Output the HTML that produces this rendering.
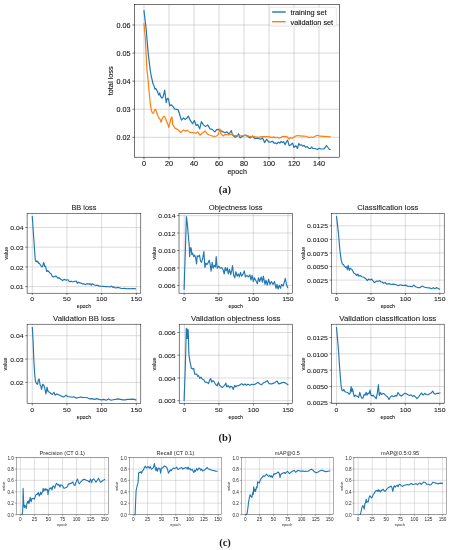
<!DOCTYPE html>
<html><head><meta charset="utf-8"><style>
html,body{margin:0;padding:0;background:#fff;}
body{width:451px;height:550px;overflow:hidden;font-family:"Liberation Sans",sans-serif;}
svg{display:block;filter:blur(0.3px);}
</style></head><body>
<svg width="451" height="550" viewBox="0 0 451 550" font-family="Liberation Sans, sans-serif">
<rect width="451" height="550" fill="#fff"/>
<line x1="143.97" y1="4.40" x2="143.97" y2="157.20" stroke="#b0b0b0" stroke-width="0.5"/>
<line x1="168.98" y1="4.40" x2="168.98" y2="157.20" stroke="#b0b0b0" stroke-width="0.5"/>
<line x1="193.99" y1="4.40" x2="193.99" y2="157.20" stroke="#b0b0b0" stroke-width="0.5"/>
<line x1="218.99" y1="4.40" x2="218.99" y2="157.20" stroke="#b0b0b0" stroke-width="0.5"/>
<line x1="244.00" y1="4.40" x2="244.00" y2="157.20" stroke="#b0b0b0" stroke-width="0.5"/>
<line x1="269.01" y1="4.40" x2="269.01" y2="157.20" stroke="#b0b0b0" stroke-width="0.5"/>
<line x1="294.02" y1="4.40" x2="294.02" y2="157.20" stroke="#b0b0b0" stroke-width="0.5"/>
<line x1="319.03" y1="4.40" x2="319.03" y2="157.20" stroke="#b0b0b0" stroke-width="0.5"/>
<line x1="134.65" y1="137.30" x2="339.60" y2="137.30" stroke="#b0b0b0" stroke-width="0.5"/>
<line x1="134.65" y1="109.23" x2="339.60" y2="109.23" stroke="#b0b0b0" stroke-width="0.5"/>
<line x1="134.65" y1="81.15" x2="339.60" y2="81.15" stroke="#b0b0b0" stroke-width="0.5"/>
<line x1="134.65" y1="53.08" x2="339.60" y2="53.08" stroke="#b0b0b0" stroke-width="0.5"/>
<line x1="134.65" y1="25.00" x2="339.60" y2="25.00" stroke="#b0b0b0" stroke-width="0.5"/>
<polyline points="143.97,10.70 146.20,29.50 148.10,52.40 150.20,70.00 151.30,76.50 152.40,80.90 152.90,83.60 154.00,85.80 154.90,89.10 155.60,88.50 156.40,89.40 157.30,91.30 158.10,93.40 158.90,95.10 159.70,92.90 160.50,96.20 161.60,97.80 162.70,97.80 163.80,94.00 164.70,90.20 165.40,96.20 166.20,102.70 167.10,98.90 168.20,98.40 169.00,101.60 169.80,106.00 170.90,104.90 172.00,105.40 174.90,109.20 178.10,109.50 181.40,120.10 183.60,118.00 185.00,119.40 186.70,118.30 188.30,116.10 190.00,119.90 192.50,123.80 194.40,120.50 196.10,125.50 197.70,124.40 199.70,128.80 201.40,121.60 203.30,124.90 205.50,126.60 207.70,124.90 209.90,128.80 212.20,129.40 214.90,131.90 216.60,129.70 218.30,129.40 220.50,130.50 222.70,131.60 224.90,132.70 227.10,131.90 228.80,133.80 230.00,132.60 231.30,130.60 232.70,135.30 235.30,137.30 237.30,135.90 238.60,133.70 240.00,137.90 242.00,136.60 244.60,135.30 247.30,135.90 250.00,137.90 252.60,135.90 254.60,138.60 257.90,138.20 260.60,139.30 262.60,137.90 264.60,142.60 266.60,139.30 268.60,141.90 270.00,142.20 271.30,141.70 272.70,141.30 274.00,143.20 275.30,142.90 276.70,143.80 278.40,142.20 279.80,143.10 281.10,141.30 282.40,142.60 283.70,141.70 285.10,144.80 286.00,142.60 287.60,140.20 289.10,145.70 290.80,144.80 292.60,143.10 293.90,147.50 295.70,145.70 297.50,148.40 298.80,143.50 300.20,145.30 301.50,144.80 302.80,146.20 304.10,145.30 305.50,147.10 307.30,146.60 309.00,148.40 310.50,148.50 311.50,147.00 313.00,148.50 315.00,148.50 317.50,149.50 319.00,148.30 321.00,149.00 324.00,148.80 325.50,147.00 326.50,145.50 328.00,147.50 329.40,149.50 330.20,149.50" fill="none" stroke="#1f77b4" stroke-width="1.2" stroke-linejoin="round" stroke-linecap="square"/>
<polyline points="143.97,23.80 145.40,39.30 146.90,70.00 148.00,78.70 149.10,91.80 150.20,102.70 151.30,110.30 152.40,113.10 153.50,113.10 154.50,110.30 155.60,109.30 156.70,112.50 157.80,115.80 158.90,118.00 160.00,119.10 161.10,122.30 162.20,118.50 163.30,116.90 164.40,116.30 165.40,118.00 166.50,121.30 168.00,124.50 168.70,127.30 169.80,123.40 170.90,118.50 172.00,116.90 172.70,124.50 174.90,128.10 177.80,129.60 180.70,132.50 183.60,129.90 185.80,131.30 187.20,130.10 189.40,132.10 192.80,132.70 196.10,133.20 197.70,131.90 200.00,135.20 202.20,133.20 205.00,131.00 207.70,134.30 210.50,135.50 213.80,136.30 216.60,136.00 218.30,134.30 219.90,128.80 221.00,133.80 223.20,136.00 225.50,134.30 228.20,134.90 231.60,134.30 234.00,135.30 238.00,135.90 242.00,135.90 246.00,135.00 250.00,136.60 254.00,136.60 257.90,137.30 261.90,136.60 265.90,136.60 270.00,136.90 271.80,137.70 273.50,136.90 275.30,137.70 277.10,137.30 278.90,138.20 280.60,137.70 282.40,136.40 284.20,136.70 286.00,136.40 287.70,137.30 289.10,139.10 290.40,137.70 292.20,138.20 293.90,137.30 295.70,136.00 297.50,135.50 300.20,135.80 302.80,136.10 304.00,136.20 307.00,136.50 309.00,137.80 311.00,137.00 313.00,137.50 315.00,136.20 317.50,135.20 320.00,136.20 324.00,136.30 327.00,136.50 330.20,136.80" fill="none" stroke="#ff7f0e" stroke-width="1.2" stroke-linejoin="round" stroke-linecap="square"/>
<rect x="269.8" y="7.2" width="66.5" height="19" rx="1.2" fill="#fff" fill-opacity="0.8" stroke="#d0d0d0" stroke-width="0.5"/>
<line x1="272.1" y1="12" x2="285.7" y2="12" stroke="#1f77b4" stroke-width="1.4"/>
<line x1="272.1" y1="21.7" x2="285.7" y2="21.7" stroke="#ff7f0e" stroke-width="1.4"/>
<text x="290.50" y="14.90" font-size="6.80" text-anchor="start" textLength="36.04" lengthAdjust="spacingAndGlyphs" fill="#111" stroke="#111" stroke-width="0.1">training set</text>
<text x="290.50" y="24.50" font-size="6.80" text-anchor="start" textLength="42.66" lengthAdjust="spacingAndGlyphs" fill="#111" stroke="#111" stroke-width="0.1">validation set</text>
<rect x="134.65" y="4.40" width="204.95" height="152.80" fill="none" stroke="#000" stroke-width="0.55"/>
<line x1="143.97" y1="157.20" x2="143.97" y2="159.40" stroke="#000" stroke-width="0.55"/>
<line x1="168.98" y1="157.20" x2="168.98" y2="159.40" stroke="#000" stroke-width="0.55"/>
<line x1="193.99" y1="157.20" x2="193.99" y2="159.40" stroke="#000" stroke-width="0.55"/>
<line x1="218.99" y1="157.20" x2="218.99" y2="159.40" stroke="#000" stroke-width="0.55"/>
<line x1="244.00" y1="157.20" x2="244.00" y2="159.40" stroke="#000" stroke-width="0.55"/>
<line x1="269.01" y1="157.20" x2="269.01" y2="159.40" stroke="#000" stroke-width="0.55"/>
<line x1="294.02" y1="157.20" x2="294.02" y2="159.40" stroke="#000" stroke-width="0.55"/>
<line x1="319.03" y1="157.20" x2="319.03" y2="159.40" stroke="#000" stroke-width="0.55"/>
<line x1="132.45" y1="137.30" x2="134.65" y2="137.30" stroke="#000" stroke-width="0.55"/>
<line x1="132.45" y1="109.23" x2="134.65" y2="109.23" stroke="#000" stroke-width="0.55"/>
<line x1="132.45" y1="81.15" x2="134.65" y2="81.15" stroke="#000" stroke-width="0.55"/>
<line x1="132.45" y1="53.08" x2="134.65" y2="53.08" stroke="#000" stroke-width="0.55"/>
<line x1="132.45" y1="25.00" x2="134.65" y2="25.00" stroke="#000" stroke-width="0.55"/>
<text x="143.97" y="166.19" font-size="6.80" text-anchor="middle" textLength="4.01" lengthAdjust="spacingAndGlyphs" fill="#111" stroke="#111" stroke-width="0.1">0</text>
<text x="168.98" y="166.19" font-size="6.80" text-anchor="middle" textLength="8.01" lengthAdjust="spacingAndGlyphs" fill="#111" stroke="#111" stroke-width="0.1">20</text>
<text x="193.99" y="166.19" font-size="6.80" text-anchor="middle" textLength="8.01" lengthAdjust="spacingAndGlyphs" fill="#111" stroke="#111" stroke-width="0.1">40</text>
<text x="218.99" y="166.19" font-size="6.80" text-anchor="middle" textLength="8.01" lengthAdjust="spacingAndGlyphs" fill="#111" stroke="#111" stroke-width="0.1">60</text>
<text x="244.00" y="166.19" font-size="6.80" text-anchor="middle" textLength="8.01" lengthAdjust="spacingAndGlyphs" fill="#111" stroke="#111" stroke-width="0.1">80</text>
<text x="269.01" y="166.19" font-size="6.80" text-anchor="middle" textLength="12.02" lengthAdjust="spacingAndGlyphs" fill="#111" stroke="#111" stroke-width="0.1">100</text>
<text x="294.02" y="166.19" font-size="6.80" text-anchor="middle" textLength="12.02" lengthAdjust="spacingAndGlyphs" fill="#111" stroke="#111" stroke-width="0.1">120</text>
<text x="319.03" y="166.19" font-size="6.80" text-anchor="middle" textLength="12.02" lengthAdjust="spacingAndGlyphs" fill="#111" stroke="#111" stroke-width="0.1">140</text>
<text x="130.55" y="140.20" font-size="6.80" text-anchor="end" textLength="14.02" lengthAdjust="spacingAndGlyphs" fill="#111" stroke="#111" stroke-width="0.1">0.02</text>
<text x="130.55" y="112.12" font-size="6.80" text-anchor="end" textLength="14.02" lengthAdjust="spacingAndGlyphs" fill="#111" stroke="#111" stroke-width="0.1">0.03</text>
<text x="130.55" y="84.05" font-size="6.80" text-anchor="end" textLength="14.02" lengthAdjust="spacingAndGlyphs" fill="#111" stroke="#111" stroke-width="0.1">0.04</text>
<text x="130.55" y="55.97" font-size="6.80" text-anchor="end" textLength="14.02" lengthAdjust="spacingAndGlyphs" fill="#111" stroke="#111" stroke-width="0.1">0.05</text>
<text x="130.55" y="27.90" font-size="6.80" text-anchor="end" textLength="14.02" lengthAdjust="spacingAndGlyphs" fill="#111" stroke="#111" stroke-width="0.1">0.06</text>
<text x="237.12" y="174.30" font-size="6.91" text-anchor="middle" textLength="19.49" lengthAdjust="spacingAndGlyphs" fill="#111" stroke="#111" stroke-width="0.1">epoch</text>
<text x="113.03" y="80.80" font-size="6.91" text-anchor="middle" textLength="29.04" lengthAdjust="spacingAndGlyphs" transform="rotate(-90 113.03 80.80)" fill="#111" stroke="#111" stroke-width="0.1">total loss</text>
<text x="224.8" y="193.3" font-family="Liberation Serif, serif" font-weight="bold" font-size="10.5" text-anchor="middle" fill="#1a1a1a">(a)</text>
<line x1="32.27" y1="213.30" x2="32.27" y2="293.20" stroke="#b0b0b0" stroke-width="0.45"/>
<line x1="66.95" y1="213.30" x2="66.95" y2="293.20" stroke="#b0b0b0" stroke-width="0.45"/>
<line x1="101.64" y1="213.30" x2="101.64" y2="293.20" stroke="#b0b0b0" stroke-width="0.45"/>
<line x1="136.33" y1="213.30" x2="136.33" y2="293.20" stroke="#b0b0b0" stroke-width="0.45"/>
<line x1="27.10" y1="286.60" x2="140.80" y2="286.60" stroke="#b0b0b0" stroke-width="0.45"/>
<line x1="27.10" y1="266.90" x2="140.80" y2="266.90" stroke="#b0b0b0" stroke-width="0.45"/>
<line x1="27.10" y1="247.20" x2="140.80" y2="247.20" stroke="#b0b0b0" stroke-width="0.45"/>
<line x1="27.10" y1="227.50" x2="140.80" y2="227.50" stroke="#b0b0b0" stroke-width="0.45"/>
<polyline points="32.30,216.60 33.50,234.80 34.30,246.50 34.90,255.00 35.30,259.90 36.00,261.70 36.70,260.80 37.40,262.10 38.00,261.70 38.60,263.40 39.30,263.20 40.00,264.30 40.90,265.60 41.80,267.00 42.70,266.10 43.60,262.50 44.20,263.90 44.60,266.50 45.40,266.10 46.00,267.90 46.60,271.40 47.30,270.50 48.00,271.40 48.60,271.00 49.50,272.70 50.40,273.20 51.30,274.10 52.20,276.30 53.10,277.20 54.00,276.30 54.80,276.70 55.70,276.10 56.60,276.30 57.20,277.60 58.10,278.20 59.00,277.60 59.90,278.50 60.80,279.40 61.70,279.80 62.60,280.70 63.40,279.80 64.30,279.40 65.20,279.80 66.10,280.30 67.30,279.70 68.10,279.80 69.00,281.20 69.90,281.60 71.10,281.20 72.10,281.60 73.10,281.70 74.30,281.40 75.40,281.20 76.40,281.00 77.30,283.30 78.00,282.40 79.20,282.60 80.30,282.90 81.40,283.30 82.60,283.90 83.70,283.70 84.40,284.20 85.40,284.70 86.30,284.10 87.10,283.50 88.00,284.10 89.00,283.70 89.70,284.20 90.50,283.90 91.20,285.20 92.00,283.70 93.00,284.10 93.90,284.80 95.00,285.20 96.10,285.40 97.30,285.20 98.20,285.40 99.10,286.30 100.10,286.00 101.00,286.20 102.20,286.30 103.70,286.30 105.60,286.60 107.20,286.60 108.80,286.80 110.40,286.90 111.60,286.00 112.80,287.40 114.00,286.90 115.20,288.00 116.40,287.70 117.60,287.40 118.80,287.60 120.00,288.00 121.20,288.40 122.80,288.50 124.40,288.40 125.90,288.60 127.50,288.80 129.10,288.60 130.70,288.80 132.30,288.60 133.90,288.50 135.50,288.80" fill="none" stroke="#1f77b4" stroke-width="1.15" stroke-linejoin="round" stroke-linecap="square"/>
<rect x="27.10" y="213.30" width="113.70" height="79.90" fill="none" stroke="#000" stroke-width="0.5"/>
<line x1="32.27" y1="293.20" x2="32.27" y2="295.00" stroke="#000" stroke-width="0.5"/>
<line x1="66.95" y1="293.20" x2="66.95" y2="295.00" stroke="#000" stroke-width="0.5"/>
<line x1="101.64" y1="293.20" x2="101.64" y2="295.00" stroke="#000" stroke-width="0.5"/>
<line x1="136.33" y1="293.20" x2="136.33" y2="295.00" stroke="#000" stroke-width="0.5"/>
<line x1="25.30" y1="286.60" x2="27.10" y2="286.60" stroke="#000" stroke-width="0.5"/>
<line x1="25.30" y1="266.90" x2="27.10" y2="266.90" stroke="#000" stroke-width="0.5"/>
<line x1="25.30" y1="247.20" x2="27.10" y2="247.20" stroke="#000" stroke-width="0.5"/>
<line x1="25.30" y1="227.50" x2="27.10" y2="227.50" stroke="#000" stroke-width="0.5"/>
<text x="32.27" y="301.17" font-size="6.00" text-anchor="middle" textLength="3.82" lengthAdjust="spacingAndGlyphs" fill="#1a1a1a" stroke="#1a1a1a" stroke-width="0.08">0</text>
<text x="66.95" y="301.17" font-size="6.00" text-anchor="middle" textLength="7.63" lengthAdjust="spacingAndGlyphs" fill="#1a1a1a" stroke="#1a1a1a" stroke-width="0.08">50</text>
<text x="101.64" y="301.17" font-size="6.00" text-anchor="middle" textLength="11.45" lengthAdjust="spacingAndGlyphs" fill="#1a1a1a" stroke="#1a1a1a" stroke-width="0.08">100</text>
<text x="136.33" y="301.17" font-size="6.00" text-anchor="middle" textLength="11.45" lengthAdjust="spacingAndGlyphs" fill="#1a1a1a" stroke="#1a1a1a" stroke-width="0.08">150</text>
<text x="23.60" y="289.29" font-size="6.00" text-anchor="end" textLength="13.36" lengthAdjust="spacingAndGlyphs" fill="#1a1a1a" stroke="#1a1a1a" stroke-width="0.08">0.01</text>
<text x="23.60" y="269.59" font-size="6.00" text-anchor="end" textLength="13.36" lengthAdjust="spacingAndGlyphs" fill="#1a1a1a" stroke="#1a1a1a" stroke-width="0.08">0.02</text>
<text x="23.60" y="249.89" font-size="6.00" text-anchor="end" textLength="13.36" lengthAdjust="spacingAndGlyphs" fill="#1a1a1a" stroke="#1a1a1a" stroke-width="0.08">0.03</text>
<text x="23.60" y="230.19" font-size="6.00" text-anchor="end" textLength="13.36" lengthAdjust="spacingAndGlyphs" fill="#1a1a1a" stroke="#1a1a1a" stroke-width="0.08">0.04</text>
<text x="83.95" y="210.30" font-size="7.45" text-anchor="middle" textLength="24.99" lengthAdjust="spacingAndGlyphs" fill="#1a1a1a" stroke="#1a1a1a" stroke-width="0.08">BB loss</text>
<text x="83.95" y="308.20" font-size="5.08" text-anchor="middle" textLength="14.32" lengthAdjust="spacingAndGlyphs" fill="#1a1a1a" stroke="#1a1a1a" stroke-width="0.08">epoch</text>
<text x="8.03" y="253.25" font-size="5.08" text-anchor="middle" textLength="12.84" lengthAdjust="spacingAndGlyphs" transform="rotate(-90 8.03 253.25)" fill="#1a1a1a" stroke="#1a1a1a" stroke-width="0.08">value</text>
<line x1="184.15" y1="213.30" x2="184.15" y2="293.20" stroke="#b0b0b0" stroke-width="0.45"/>
<line x1="218.75" y1="213.30" x2="218.75" y2="293.20" stroke="#b0b0b0" stroke-width="0.45"/>
<line x1="253.34" y1="213.30" x2="253.34" y2="293.20" stroke="#b0b0b0" stroke-width="0.45"/>
<line x1="287.94" y1="213.30" x2="287.94" y2="293.20" stroke="#b0b0b0" stroke-width="0.45"/>
<line x1="179.00" y1="285.40" x2="292.40" y2="285.40" stroke="#b0b0b0" stroke-width="0.45"/>
<line x1="179.00" y1="267.95" x2="292.40" y2="267.95" stroke="#b0b0b0" stroke-width="0.45"/>
<line x1="179.00" y1="250.50" x2="292.40" y2="250.50" stroke="#b0b0b0" stroke-width="0.45"/>
<line x1="179.00" y1="233.05" x2="292.40" y2="233.05" stroke="#b0b0b0" stroke-width="0.45"/>
<line x1="179.00" y1="215.60" x2="292.40" y2="215.60" stroke="#b0b0b0" stroke-width="0.45"/>
<polyline points="184.10,289.30 186.40,216.60 187.40,224.60 188.50,237.70 189.30,246.40 189.60,256.60 190.40,247.90 191.10,247.90 191.80,254.40 192.50,253.00 193.70,256.60 194.70,255.20 195.70,258.10 196.60,263.90 197.20,255.90 198.30,256.60 199.50,255.20 200.50,261.00 201.50,262.40 202.70,258.10 203.90,251.50 204.90,267.50 205.90,263.10 207.10,264.60 208.20,262.40 209.20,260.20 210.30,265.30 211.10,271.10 212.20,262.40 213.20,268.20 214.30,265.30 215.50,266.80 216.20,256.60 217.20,268.20 218.70,266.10 220.20,268.20 221.60,267.50 223.10,269.70 224.20,274.00 225.20,267.50 226.20,270.90 227.30,267.90 228.30,273.90 229.50,269.40 230.70,274.70 231.80,270.20 232.50,265.60 233.70,275.40 234.80,277.70 235.90,271.70 237.10,276.20 238.30,273.90 239.30,276.90 240.50,272.40 241.60,276.20 243.10,273.90 244.30,270.90 245.40,276.90 246.90,275.40 248.40,276.90 249.90,274.70 250.90,280.00 252.10,275.40 253.30,281.50 254.40,277.70 255.90,280.70 257.40,283.70 258.50,277.70 259.70,281.50 261.20,277.00 262.40,282.20 263.40,276.20 265.00,284.50 266.00,280.00 267.20,285.20 268.70,279.20 269.90,284.50 271.40,281.50 273.00,284.50 274.50,281.50 276.00,288.30 277.00,284.50 278.10,289.00 279.30,285.20 280.50,288.30 281.50,284.50 283.10,286.00 284.30,282.20 285.30,278.40 286.50,284.50 287.60,287.50" fill="none" stroke="#1f77b4" stroke-width="1.15" stroke-linejoin="round" stroke-linecap="square"/>
<rect x="179.00" y="213.30" width="113.40" height="79.90" fill="none" stroke="#000" stroke-width="0.5"/>
<line x1="184.15" y1="293.20" x2="184.15" y2="295.00" stroke="#000" stroke-width="0.5"/>
<line x1="218.75" y1="293.20" x2="218.75" y2="295.00" stroke="#000" stroke-width="0.5"/>
<line x1="253.34" y1="293.20" x2="253.34" y2="295.00" stroke="#000" stroke-width="0.5"/>
<line x1="287.94" y1="293.20" x2="287.94" y2="295.00" stroke="#000" stroke-width="0.5"/>
<line x1="177.20" y1="285.40" x2="179.00" y2="285.40" stroke="#000" stroke-width="0.5"/>
<line x1="177.20" y1="267.95" x2="179.00" y2="267.95" stroke="#000" stroke-width="0.5"/>
<line x1="177.20" y1="250.50" x2="179.00" y2="250.50" stroke="#000" stroke-width="0.5"/>
<line x1="177.20" y1="233.05" x2="179.00" y2="233.05" stroke="#000" stroke-width="0.5"/>
<line x1="177.20" y1="215.60" x2="179.00" y2="215.60" stroke="#000" stroke-width="0.5"/>
<text x="184.15" y="301.17" font-size="6.00" text-anchor="middle" textLength="3.82" lengthAdjust="spacingAndGlyphs" fill="#1a1a1a" stroke="#1a1a1a" stroke-width="0.08">0</text>
<text x="218.75" y="301.17" font-size="6.00" text-anchor="middle" textLength="7.63" lengthAdjust="spacingAndGlyphs" fill="#1a1a1a" stroke="#1a1a1a" stroke-width="0.08">50</text>
<text x="253.34" y="301.17" font-size="6.00" text-anchor="middle" textLength="11.45" lengthAdjust="spacingAndGlyphs" fill="#1a1a1a" stroke="#1a1a1a" stroke-width="0.08">100</text>
<text x="287.94" y="301.17" font-size="6.00" text-anchor="middle" textLength="11.45" lengthAdjust="spacingAndGlyphs" fill="#1a1a1a" stroke="#1a1a1a" stroke-width="0.08">150</text>
<text x="175.50" y="288.09" font-size="6.00" text-anchor="end" textLength="17.17" lengthAdjust="spacingAndGlyphs" fill="#1a1a1a" stroke="#1a1a1a" stroke-width="0.08">0.006</text>
<text x="175.50" y="270.64" font-size="6.00" text-anchor="end" textLength="17.17" lengthAdjust="spacingAndGlyphs" fill="#1a1a1a" stroke="#1a1a1a" stroke-width="0.08">0.008</text>
<text x="175.50" y="253.19" font-size="6.00" text-anchor="end" textLength="17.17" lengthAdjust="spacingAndGlyphs" fill="#1a1a1a" stroke="#1a1a1a" stroke-width="0.08">0.010</text>
<text x="175.50" y="235.74" font-size="6.00" text-anchor="end" textLength="17.17" lengthAdjust="spacingAndGlyphs" fill="#1a1a1a" stroke="#1a1a1a" stroke-width="0.08">0.012</text>
<text x="175.50" y="218.29" font-size="6.00" text-anchor="end" textLength="17.17" lengthAdjust="spacingAndGlyphs" fill="#1a1a1a" stroke="#1a1a1a" stroke-width="0.08">0.014</text>
<text x="235.70" y="210.30" font-size="7.45" text-anchor="middle" textLength="53.81" lengthAdjust="spacingAndGlyphs" fill="#1a1a1a" stroke="#1a1a1a" stroke-width="0.08">Objectness loss</text>
<text x="235.70" y="308.20" font-size="5.08" text-anchor="middle" textLength="14.32" lengthAdjust="spacingAndGlyphs" fill="#1a1a1a" stroke="#1a1a1a" stroke-width="0.08">epoch</text>
<text x="156.18" y="253.25" font-size="5.08" text-anchor="middle" textLength="12.84" lengthAdjust="spacingAndGlyphs" transform="rotate(-90 156.18 253.25)" fill="#1a1a1a" stroke="#1a1a1a" stroke-width="0.08">value</text>
<line x1="336.62" y1="213.30" x2="336.62" y2="293.20" stroke="#b0b0b0" stroke-width="0.45"/>
<line x1="371.00" y1="213.30" x2="371.00" y2="293.20" stroke="#b0b0b0" stroke-width="0.45"/>
<line x1="405.38" y1="213.30" x2="405.38" y2="293.20" stroke="#b0b0b0" stroke-width="0.45"/>
<line x1="439.76" y1="213.30" x2="439.76" y2="293.20" stroke="#b0b0b0" stroke-width="0.45"/>
<line x1="331.50" y1="280.10" x2="444.20" y2="280.10" stroke="#b0b0b0" stroke-width="0.45"/>
<line x1="331.50" y1="266.53" x2="444.20" y2="266.53" stroke="#b0b0b0" stroke-width="0.45"/>
<line x1="331.50" y1="252.95" x2="444.20" y2="252.95" stroke="#b0b0b0" stroke-width="0.45"/>
<line x1="331.50" y1="239.38" x2="444.20" y2="239.38" stroke="#b0b0b0" stroke-width="0.45"/>
<line x1="331.50" y1="225.80" x2="444.20" y2="225.80" stroke="#b0b0b0" stroke-width="0.45"/>
<polyline points="336.50,216.60 337.50,224.60 338.60,234.80 339.40,245.00 340.30,253.70 341.20,260.20 342.30,263.90 343.40,264.60 344.40,266.10 345.50,267.50 346.70,266.80 347.30,269.70 348.20,265.30 349.20,270.40 350.20,268.20 351.30,269.00 352.50,270.40 354.00,273.30 355.40,274.00 356.90,275.50 357.90,274.00 358.90,276.20 360.10,275.50 361.80,276.70 363.70,277.20 365.60,278.40 367.30,280.60 368.50,279.10 370.00,279.90 371.70,279.10 373.20,281.30 374.60,282.50 376.80,281.00 378.20,281.30 379.70,280.60 381.00,282.00 382.00,282.00 383.50,283.30 385.10,282.50 386.60,284.10 389.00,283.60 391.30,284.50 393.60,284.10 396.00,284.80 398.30,285.60 400.60,284.80 403.00,285.60 405.30,285.10 407.60,286.10 409.90,286.40 412.30,286.70 413.80,285.10 415.70,286.70 417.70,287.60 420.00,287.60 422.30,286.10 424.70,287.20 427.00,287.60 429.30,287.90 431.70,288.70 433.20,287.60 434.80,288.70 436.30,287.60 437.90,288.20 439.40,289.20" fill="none" stroke="#1f77b4" stroke-width="1.15" stroke-linejoin="round" stroke-linecap="square"/>
<rect x="331.50" y="213.30" width="112.70" height="79.90" fill="none" stroke="#000" stroke-width="0.5"/>
<line x1="336.62" y1="293.20" x2="336.62" y2="295.00" stroke="#000" stroke-width="0.5"/>
<line x1="371.00" y1="293.20" x2="371.00" y2="295.00" stroke="#000" stroke-width="0.5"/>
<line x1="405.38" y1="293.20" x2="405.38" y2="295.00" stroke="#000" stroke-width="0.5"/>
<line x1="439.76" y1="293.20" x2="439.76" y2="295.00" stroke="#000" stroke-width="0.5"/>
<line x1="329.70" y1="280.10" x2="331.50" y2="280.10" stroke="#000" stroke-width="0.5"/>
<line x1="329.70" y1="266.53" x2="331.50" y2="266.53" stroke="#000" stroke-width="0.5"/>
<line x1="329.70" y1="252.95" x2="331.50" y2="252.95" stroke="#000" stroke-width="0.5"/>
<line x1="329.70" y1="239.38" x2="331.50" y2="239.38" stroke="#000" stroke-width="0.5"/>
<line x1="329.70" y1="225.80" x2="331.50" y2="225.80" stroke="#000" stroke-width="0.5"/>
<text x="336.62" y="301.17" font-size="6.00" text-anchor="middle" textLength="3.82" lengthAdjust="spacingAndGlyphs" fill="#1a1a1a" stroke="#1a1a1a" stroke-width="0.08">0</text>
<text x="371.00" y="301.17" font-size="6.00" text-anchor="middle" textLength="7.63" lengthAdjust="spacingAndGlyphs" fill="#1a1a1a" stroke="#1a1a1a" stroke-width="0.08">50</text>
<text x="405.38" y="301.17" font-size="6.00" text-anchor="middle" textLength="11.45" lengthAdjust="spacingAndGlyphs" fill="#1a1a1a" stroke="#1a1a1a" stroke-width="0.08">100</text>
<text x="439.76" y="301.17" font-size="6.00" text-anchor="middle" textLength="11.45" lengthAdjust="spacingAndGlyphs" fill="#1a1a1a" stroke="#1a1a1a" stroke-width="0.08">150</text>
<text x="328.00" y="282.79" font-size="6.00" text-anchor="end" textLength="20.99" lengthAdjust="spacingAndGlyphs" fill="#1a1a1a" stroke="#1a1a1a" stroke-width="0.08">0.0025</text>
<text x="328.00" y="269.22" font-size="6.00" text-anchor="end" textLength="20.99" lengthAdjust="spacingAndGlyphs" fill="#1a1a1a" stroke="#1a1a1a" stroke-width="0.08">0.0050</text>
<text x="328.00" y="255.64" font-size="6.00" text-anchor="end" textLength="20.99" lengthAdjust="spacingAndGlyphs" fill="#1a1a1a" stroke="#1a1a1a" stroke-width="0.08">0.0075</text>
<text x="328.00" y="242.07" font-size="6.00" text-anchor="end" textLength="20.99" lengthAdjust="spacingAndGlyphs" fill="#1a1a1a" stroke="#1a1a1a" stroke-width="0.08">0.0100</text>
<text x="328.00" y="228.49" font-size="6.00" text-anchor="end" textLength="20.99" lengthAdjust="spacingAndGlyphs" fill="#1a1a1a" stroke="#1a1a1a" stroke-width="0.08">0.0125</text>
<text x="387.85" y="210.30" font-size="7.45" text-anchor="middle" textLength="61.19" lengthAdjust="spacingAndGlyphs" fill="#1a1a1a" stroke="#1a1a1a" stroke-width="0.08">Classification loss</text>
<text x="387.85" y="308.20" font-size="5.08" text-anchor="middle" textLength="14.32" lengthAdjust="spacingAndGlyphs" fill="#1a1a1a" stroke="#1a1a1a" stroke-width="0.08">epoch</text>
<text x="305.23" y="253.25" font-size="5.08" text-anchor="middle" textLength="12.84" lengthAdjust="spacingAndGlyphs" transform="rotate(-90 305.23 253.25)" fill="#1a1a1a" stroke="#1a1a1a" stroke-width="0.08">value</text>
<line x1="32.27" y1="324.20" x2="32.27" y2="403.70" stroke="#b0b0b0" stroke-width="0.45"/>
<line x1="66.95" y1="324.20" x2="66.95" y2="403.70" stroke="#b0b0b0" stroke-width="0.45"/>
<line x1="101.64" y1="324.20" x2="101.64" y2="403.70" stroke="#b0b0b0" stroke-width="0.45"/>
<line x1="136.33" y1="324.20" x2="136.33" y2="403.70" stroke="#b0b0b0" stroke-width="0.45"/>
<line x1="27.10" y1="382.40" x2="140.80" y2="382.40" stroke="#b0b0b0" stroke-width="0.45"/>
<line x1="27.10" y1="359.05" x2="140.80" y2="359.05" stroke="#b0b0b0" stroke-width="0.45"/>
<line x1="27.10" y1="335.70" x2="140.80" y2="335.70" stroke="#b0b0b0" stroke-width="0.45"/>
<polyline points="32.30,327.60 33.10,341.40 33.70,357.40 34.60,373.40 35.40,380.70 36.40,383.60 37.50,384.30 38.30,380.00 39.10,378.90 40.10,385.00 40.80,385.80 41.50,389.40 42.70,384.30 43.70,385.00 44.70,388.00 45.90,393.80 47.10,387.20 48.10,391.60 49.50,392.30 51.00,393.50 52.40,394.50 53.90,392.30 55.30,395.20 56.80,393.80 58.30,394.90 60.10,395.20 61.90,396.40 63.60,397.00 65.10,396.00 66.20,395.20 67.70,396.70 69.90,396.70 72.10,397.20 73.90,396.70 75.50,397.80 77.90,397.80 80.20,397.00 82.60,397.40 85.00,397.50 87.30,397.80 89.70,398.90 92.00,398.60 94.40,399.40 96.80,398.60 99.10,399.40 101.50,399.90 103.80,399.40 106.20,400.20 108.60,398.90 110.90,400.20 113.30,399.70 115.70,399.40 118.00,398.90 120.40,399.40 122.70,399.90 125.10,399.90 127.50,399.40 129.80,399.40 132.20,399.10 134.50,399.40 135.80,399.90" fill="none" stroke="#1f77b4" stroke-width="1.15" stroke-linejoin="round" stroke-linecap="square"/>
<rect x="27.10" y="324.20" width="113.70" height="79.50" fill="none" stroke="#000" stroke-width="0.5"/>
<line x1="32.27" y1="403.70" x2="32.27" y2="405.50" stroke="#000" stroke-width="0.5"/>
<line x1="66.95" y1="403.70" x2="66.95" y2="405.50" stroke="#000" stroke-width="0.5"/>
<line x1="101.64" y1="403.70" x2="101.64" y2="405.50" stroke="#000" stroke-width="0.5"/>
<line x1="136.33" y1="403.70" x2="136.33" y2="405.50" stroke="#000" stroke-width="0.5"/>
<line x1="25.30" y1="382.40" x2="27.10" y2="382.40" stroke="#000" stroke-width="0.5"/>
<line x1="25.30" y1="359.05" x2="27.10" y2="359.05" stroke="#000" stroke-width="0.5"/>
<line x1="25.30" y1="335.70" x2="27.10" y2="335.70" stroke="#000" stroke-width="0.5"/>
<text x="32.27" y="412.07" font-size="6.00" text-anchor="middle" textLength="3.82" lengthAdjust="spacingAndGlyphs" fill="#1a1a1a" stroke="#1a1a1a" stroke-width="0.08">0</text>
<text x="66.95" y="412.07" font-size="6.00" text-anchor="middle" textLength="7.63" lengthAdjust="spacingAndGlyphs" fill="#1a1a1a" stroke="#1a1a1a" stroke-width="0.08">50</text>
<text x="101.64" y="412.07" font-size="6.00" text-anchor="middle" textLength="11.45" lengthAdjust="spacingAndGlyphs" fill="#1a1a1a" stroke="#1a1a1a" stroke-width="0.08">100</text>
<text x="136.33" y="412.07" font-size="6.00" text-anchor="middle" textLength="11.45" lengthAdjust="spacingAndGlyphs" fill="#1a1a1a" stroke="#1a1a1a" stroke-width="0.08">150</text>
<text x="23.60" y="385.09" font-size="6.00" text-anchor="end" textLength="13.36" lengthAdjust="spacingAndGlyphs" fill="#1a1a1a" stroke="#1a1a1a" stroke-width="0.08">0.02</text>
<text x="23.60" y="361.74" font-size="6.00" text-anchor="end" textLength="13.36" lengthAdjust="spacingAndGlyphs" fill="#1a1a1a" stroke="#1a1a1a" stroke-width="0.08">0.03</text>
<text x="23.60" y="338.39" font-size="6.00" text-anchor="end" textLength="13.36" lengthAdjust="spacingAndGlyphs" fill="#1a1a1a" stroke="#1a1a1a" stroke-width="0.08">0.04</text>
<text x="83.95" y="321.20" font-size="7.45" text-anchor="middle" textLength="61.80" lengthAdjust="spacingAndGlyphs" fill="#1a1a1a" stroke="#1a1a1a" stroke-width="0.08">Validation BB loss</text>
<text x="83.95" y="418.70" font-size="5.08" text-anchor="middle" textLength="14.32" lengthAdjust="spacingAndGlyphs" fill="#1a1a1a" stroke="#1a1a1a" stroke-width="0.08">epoch</text>
<text x="7.43" y="363.95" font-size="5.08" text-anchor="middle" textLength="12.84" lengthAdjust="spacingAndGlyphs" transform="rotate(-90 7.43 363.95)" fill="#1a1a1a" stroke="#1a1a1a" stroke-width="0.08">value</text>
<line x1="184.35" y1="324.20" x2="184.35" y2="403.70" stroke="#b0b0b0" stroke-width="0.45"/>
<line x1="218.88" y1="324.20" x2="218.88" y2="403.70" stroke="#b0b0b0" stroke-width="0.45"/>
<line x1="253.41" y1="324.20" x2="253.41" y2="403.70" stroke="#b0b0b0" stroke-width="0.45"/>
<line x1="287.95" y1="324.20" x2="287.95" y2="403.70" stroke="#b0b0b0" stroke-width="0.45"/>
<line x1="179.20" y1="400.70" x2="292.40" y2="400.70" stroke="#b0b0b0" stroke-width="0.45"/>
<line x1="179.20" y1="377.97" x2="292.40" y2="377.97" stroke="#b0b0b0" stroke-width="0.45"/>
<line x1="179.20" y1="355.23" x2="292.40" y2="355.23" stroke="#b0b0b0" stroke-width="0.45"/>
<line x1="179.20" y1="332.50" x2="292.40" y2="332.50" stroke="#b0b0b0" stroke-width="0.45"/>
<polyline points="184.10,400.30 185.30,367.60 186.30,328.40 187.00,338.50 187.30,329.10 187.90,338.50 188.20,329.80 188.90,354.50 189.90,361.10 191.40,368.30 192.50,369.10 193.70,368.30 194.70,374.10 195.70,374.10 196.90,374.10 197.60,376.30 198.60,375.60 199.80,378.50 201.00,377.10 202.40,379.20 203.90,380.00 204.90,382.10 206.30,382.10 207.80,382.90 208.50,383.60 209.70,380.00 210.70,378.50 211.70,382.10 212.90,380.70 214.00,381.40 215.10,383.60 216.10,385.00 217.20,385.80 218.40,382.10 219.40,385.00 220.90,386.50 222.30,387.50 223.60,386.30 225.10,384.70 225.90,383.10 226.70,387.00 228.30,385.50 229.60,387.80 230.70,386.30 232.20,387.00 233.30,389.40 234.60,385.50 235.90,387.00 237.00,385.50 238.50,385.80 240.10,384.70 241.70,383.60 243.30,385.20 244.80,383.90 246.40,385.20 248.00,384.20 250.00,385.20 251.90,384.20 253.50,384.70 255.80,383.90 257.90,382.30 259.80,383.90 261.40,384.70 263.20,383.10 265.30,382.00 267.30,380.70 269.20,383.60 271.60,383.90 274.00,383.10 275.50,382.00 277.10,381.10 278.70,383.90 281.00,383.10 283.40,382.30 285.80,383.10 287.80,384.70" fill="none" stroke="#1f77b4" stroke-width="1.15" stroke-linejoin="round" stroke-linecap="square"/>
<rect x="179.20" y="324.20" width="113.20" height="79.50" fill="none" stroke="#000" stroke-width="0.5"/>
<line x1="184.35" y1="403.70" x2="184.35" y2="405.50" stroke="#000" stroke-width="0.5"/>
<line x1="218.88" y1="403.70" x2="218.88" y2="405.50" stroke="#000" stroke-width="0.5"/>
<line x1="253.41" y1="403.70" x2="253.41" y2="405.50" stroke="#000" stroke-width="0.5"/>
<line x1="287.95" y1="403.70" x2="287.95" y2="405.50" stroke="#000" stroke-width="0.5"/>
<line x1="177.40" y1="400.70" x2="179.20" y2="400.70" stroke="#000" stroke-width="0.5"/>
<line x1="177.40" y1="377.97" x2="179.20" y2="377.97" stroke="#000" stroke-width="0.5"/>
<line x1="177.40" y1="355.23" x2="179.20" y2="355.23" stroke="#000" stroke-width="0.5"/>
<line x1="177.40" y1="332.50" x2="179.20" y2="332.50" stroke="#000" stroke-width="0.5"/>
<text x="184.35" y="412.07" font-size="6.00" text-anchor="middle" textLength="3.82" lengthAdjust="spacingAndGlyphs" fill="#1a1a1a" stroke="#1a1a1a" stroke-width="0.08">0</text>
<text x="218.88" y="412.07" font-size="6.00" text-anchor="middle" textLength="7.63" lengthAdjust="spacingAndGlyphs" fill="#1a1a1a" stroke="#1a1a1a" stroke-width="0.08">50</text>
<text x="253.41" y="412.07" font-size="6.00" text-anchor="middle" textLength="11.45" lengthAdjust="spacingAndGlyphs" fill="#1a1a1a" stroke="#1a1a1a" stroke-width="0.08">100</text>
<text x="287.95" y="412.07" font-size="6.00" text-anchor="middle" textLength="11.45" lengthAdjust="spacingAndGlyphs" fill="#1a1a1a" stroke="#1a1a1a" stroke-width="0.08">150</text>
<text x="175.70" y="403.39" font-size="6.00" text-anchor="end" textLength="17.17" lengthAdjust="spacingAndGlyphs" fill="#1a1a1a" stroke="#1a1a1a" stroke-width="0.08">0.003</text>
<text x="175.70" y="380.66" font-size="6.00" text-anchor="end" textLength="17.17" lengthAdjust="spacingAndGlyphs" fill="#1a1a1a" stroke="#1a1a1a" stroke-width="0.08">0.004</text>
<text x="175.70" y="357.92" font-size="6.00" text-anchor="end" textLength="17.17" lengthAdjust="spacingAndGlyphs" fill="#1a1a1a" stroke="#1a1a1a" stroke-width="0.08">0.005</text>
<text x="175.70" y="335.19" font-size="6.00" text-anchor="end" textLength="17.17" lengthAdjust="spacingAndGlyphs" fill="#1a1a1a" stroke="#1a1a1a" stroke-width="0.08">0.006</text>
<text x="235.80" y="321.20" font-size="7.45" text-anchor="middle" textLength="89.41" lengthAdjust="spacingAndGlyphs" fill="#1a1a1a" stroke="#1a1a1a" stroke-width="0.08">Validation objectness loss</text>
<text x="235.80" y="418.70" font-size="5.08" text-anchor="middle" textLength="14.32" lengthAdjust="spacingAndGlyphs" fill="#1a1a1a" stroke="#1a1a1a" stroke-width="0.08">epoch</text>
<text x="156.23" y="363.95" font-size="5.08" text-anchor="middle" textLength="12.84" lengthAdjust="spacingAndGlyphs" transform="rotate(-90 156.23 363.95)" fill="#1a1a1a" stroke="#1a1a1a" stroke-width="0.08">value</text>
<line x1="336.53" y1="324.20" x2="336.53" y2="403.70" stroke="#b0b0b0" stroke-width="0.45"/>
<line x1="370.94" y1="324.20" x2="370.94" y2="403.70" stroke="#b0b0b0" stroke-width="0.45"/>
<line x1="405.35" y1="324.20" x2="405.35" y2="403.70" stroke="#b0b0b0" stroke-width="0.45"/>
<line x1="439.76" y1="324.20" x2="439.76" y2="403.70" stroke="#b0b0b0" stroke-width="0.45"/>
<line x1="331.40" y1="402.80" x2="444.20" y2="402.80" stroke="#b0b0b0" stroke-width="0.45"/>
<line x1="331.40" y1="386.48" x2="444.20" y2="386.48" stroke="#b0b0b0" stroke-width="0.45"/>
<line x1="331.40" y1="370.15" x2="444.20" y2="370.15" stroke="#b0b0b0" stroke-width="0.45"/>
<line x1="331.40" y1="353.82" x2="444.20" y2="353.82" stroke="#b0b0b0" stroke-width="0.45"/>
<line x1="331.40" y1="337.50" x2="444.20" y2="337.50" stroke="#b0b0b0" stroke-width="0.45"/>
<polyline points="336.50,327.60 337.50,338.50 338.60,351.60 339.40,364.70 340.30,376.30 341.20,386.50 341.90,390.10 342.90,390.90 343.80,389.40 344.80,391.60 345.80,392.00 347.00,392.30 348.20,393.00 349.20,394.50 350.20,393.00 351.10,386.50 351.80,391.60 352.50,388.70 353.50,393.80 354.30,396.70 355.40,395.20 356.40,396.00 357.50,396.40 358.60,397.40 359.80,392.30 360.80,396.00 361.80,398.10 363.00,398.10 364.10,394.50 365.20,395.20 366.20,392.30 367.00,395.20 368.10,393.00 369.10,393.80 370.00,390.10 371.00,395.20 372.00,396.00 373.20,395.20 374.30,396.70 375.30,397.20 376.20,398.70 377.30,393.30 378.40,384.70 379.30,395.60 380.40,392.50 381.50,394.50 382.80,393.30 384.30,394.10 385.90,395.60 387.40,396.70 389.00,399.50 390.50,396.70 392.10,395.60 393.60,396.70 395.20,395.60 396.70,396.10 398.00,392.50 399.50,394.80 401.10,396.10 402.60,395.10 404.50,393.30 406.00,393.60 407.90,394.80 409.50,395.60 411.00,394.80 412.60,396.40 414.10,395.60 415.70,397.20 416.90,398.70 418.50,397.20 420.00,394.80 421.60,393.00 423.10,395.10 424.70,393.30 426.20,394.50 428.10,394.80 430.10,393.60 431.70,392.50 432.70,391.00 434.00,393.60 435.50,394.10 437.10,393.30 439.00,393.30 439.90,393.00" fill="none" stroke="#1f77b4" stroke-width="1.15" stroke-linejoin="round" stroke-linecap="square"/>
<rect x="331.40" y="324.20" width="112.80" height="79.50" fill="none" stroke="#000" stroke-width="0.5"/>
<line x1="336.53" y1="403.70" x2="336.53" y2="405.50" stroke="#000" stroke-width="0.5"/>
<line x1="370.94" y1="403.70" x2="370.94" y2="405.50" stroke="#000" stroke-width="0.5"/>
<line x1="405.35" y1="403.70" x2="405.35" y2="405.50" stroke="#000" stroke-width="0.5"/>
<line x1="439.76" y1="403.70" x2="439.76" y2="405.50" stroke="#000" stroke-width="0.5"/>
<line x1="329.60" y1="402.80" x2="331.40" y2="402.80" stroke="#000" stroke-width="0.5"/>
<line x1="329.60" y1="386.48" x2="331.40" y2="386.48" stroke="#000" stroke-width="0.5"/>
<line x1="329.60" y1="370.15" x2="331.40" y2="370.15" stroke="#000" stroke-width="0.5"/>
<line x1="329.60" y1="353.82" x2="331.40" y2="353.82" stroke="#000" stroke-width="0.5"/>
<line x1="329.60" y1="337.50" x2="331.40" y2="337.50" stroke="#000" stroke-width="0.5"/>
<text x="336.53" y="412.07" font-size="6.00" text-anchor="middle" textLength="3.82" lengthAdjust="spacingAndGlyphs" fill="#1a1a1a" stroke="#1a1a1a" stroke-width="0.08">0</text>
<text x="370.94" y="412.07" font-size="6.00" text-anchor="middle" textLength="7.63" lengthAdjust="spacingAndGlyphs" fill="#1a1a1a" stroke="#1a1a1a" stroke-width="0.08">50</text>
<text x="405.35" y="412.07" font-size="6.00" text-anchor="middle" textLength="11.45" lengthAdjust="spacingAndGlyphs" fill="#1a1a1a" stroke="#1a1a1a" stroke-width="0.08">100</text>
<text x="439.76" y="412.07" font-size="6.00" text-anchor="middle" textLength="11.45" lengthAdjust="spacingAndGlyphs" fill="#1a1a1a" stroke="#1a1a1a" stroke-width="0.08">150</text>
<text x="327.90" y="405.49" font-size="6.00" text-anchor="end" textLength="20.99" lengthAdjust="spacingAndGlyphs" fill="#1a1a1a" stroke="#1a1a1a" stroke-width="0.08">0.0025</text>
<text x="327.90" y="389.17" font-size="6.00" text-anchor="end" textLength="20.99" lengthAdjust="spacingAndGlyphs" fill="#1a1a1a" stroke="#1a1a1a" stroke-width="0.08">0.0050</text>
<text x="327.90" y="372.84" font-size="6.00" text-anchor="end" textLength="20.99" lengthAdjust="spacingAndGlyphs" fill="#1a1a1a" stroke="#1a1a1a" stroke-width="0.08">0.0075</text>
<text x="327.90" y="356.51" font-size="6.00" text-anchor="end" textLength="20.99" lengthAdjust="spacingAndGlyphs" fill="#1a1a1a" stroke="#1a1a1a" stroke-width="0.08">0.0100</text>
<text x="327.90" y="340.19" font-size="6.00" text-anchor="end" textLength="20.99" lengthAdjust="spacingAndGlyphs" fill="#1a1a1a" stroke="#1a1a1a" stroke-width="0.08">0.0125</text>
<text x="387.80" y="321.20" font-size="7.45" text-anchor="middle" textLength="96.98" lengthAdjust="spacingAndGlyphs" fill="#1a1a1a" stroke="#1a1a1a" stroke-width="0.08">Validation classification loss</text>
<text x="387.80" y="418.70" font-size="5.08" text-anchor="middle" textLength="14.32" lengthAdjust="spacingAndGlyphs" fill="#1a1a1a" stroke="#1a1a1a" stroke-width="0.08">epoch</text>
<text x="305.13" y="363.95" font-size="5.08" text-anchor="middle" textLength="12.84" lengthAdjust="spacingAndGlyphs" transform="rotate(-90 305.13 363.95)" fill="#1a1a1a" stroke="#1a1a1a" stroke-width="0.08">value</text>
<text x="225" y="440.7" font-family="Liberation Serif, serif" font-weight="bold" font-size="10.5" text-anchor="middle" fill="#1a1a1a">(b)</text>
<line x1="20.39" y1="457.60" x2="20.39" y2="514.60" stroke="#b0b0b0" stroke-width="0.4"/>
<line x1="34.43" y1="457.60" x2="34.43" y2="514.60" stroke="#b0b0b0" stroke-width="0.4"/>
<line x1="48.48" y1="457.60" x2="48.48" y2="514.60" stroke="#b0b0b0" stroke-width="0.4"/>
<line x1="62.53" y1="457.60" x2="62.53" y2="514.60" stroke="#b0b0b0" stroke-width="0.4"/>
<line x1="76.58" y1="457.60" x2="76.58" y2="514.60" stroke="#b0b0b0" stroke-width="0.4"/>
<line x1="90.63" y1="457.60" x2="90.63" y2="514.60" stroke="#b0b0b0" stroke-width="0.4"/>
<line x1="104.68" y1="457.60" x2="104.68" y2="514.60" stroke="#b0b0b0" stroke-width="0.4"/>
<line x1="16.20" y1="514.60" x2="108.30" y2="514.60" stroke="#b0b0b0" stroke-width="0.4"/>
<line x1="16.20" y1="503.20" x2="108.30" y2="503.20" stroke="#b0b0b0" stroke-width="0.4"/>
<line x1="16.20" y1="491.80" x2="108.30" y2="491.80" stroke="#b0b0b0" stroke-width="0.4"/>
<line x1="16.20" y1="480.40" x2="108.30" y2="480.40" stroke="#b0b0b0" stroke-width="0.4"/>
<line x1="16.20" y1="469.00" x2="108.30" y2="469.00" stroke="#b0b0b0" stroke-width="0.4"/>
<line x1="16.20" y1="457.60" x2="108.30" y2="457.60" stroke="#b0b0b0" stroke-width="0.4"/>
<polyline points="22.10,514.60 22.60,511.90 22.90,505.60 23.10,488.40 23.50,498.70 23.80,504.30 24.30,507.70 24.80,505.30 25.50,506.30 26.20,508.40 26.90,503.60 27.50,501.50 27.90,502.90 28.40,500.80 29.00,503.60 29.50,500.80 30.20,497.40 30.70,500.80 31.20,501.80 31.70,498.70 32.40,498.40 33.10,498.70 33.80,498.40 34.50,499.10 35.20,496.70 35.90,494.90 36.60,494.20 37.30,494.60 37.80,493.20 38.30,492.50 38.80,494.60 39.40,496.00 40.00,493.90 40.60,492.20 41.10,494.60 41.80,493.20 42.50,491.80 43.20,488.40 43.60,491.10 44.20,489.70 44.70,489.10 45.20,490.40 45.70,488.70 46.30,489.10 47.10,490.40 47.60,489.70 48.00,494.60 48.50,491.30 49.30,489.30 50.00,488.00 50.70,488.60 51.30,487.60 52.00,490.00 52.70,486.60 53.30,486.00 54.00,486.60 54.70,488.30 55.30,486.00 56.00,484.30 56.60,483.30 57.30,484.30 58.00,485.30 58.60,484.30 59.30,485.30 60.00,487.00 60.60,485.00 61.30,485.30 62.00,485.00 62.80,486.00 63.60,488.00 64.60,488.30 65.60,487.60 66.60,487.30 67.60,486.30 68.30,484.30 69.00,483.60 69.60,484.00 70.30,483.60 71.00,483.00 71.60,483.30 72.30,482.30 72.90,482.00 73.60,484.00 74.30,485.30 74.90,485.60 75.60,483.30 76.30,481.60 76.90,480.00 77.60,479.00 78.30,482.20 79.40,483.80 80.50,482.20 81.60,481.10 82.70,480.00 83.80,479.20 84.90,479.40 86.10,480.30 87.20,480.50 88.30,481.10 89.40,482.20 90.50,478.90 91.60,482.70 92.70,479.40 93.80,478.90 94.90,480.50 96.00,482.20 97.10,480.50 98.60,478.30 99.40,480.50 100.50,482.20 101.60,481.60 102.70,480.50 103.80,480.00 104.60,479.40" fill="none" stroke="#1f77b4" stroke-width="1.1" stroke-linejoin="round" stroke-linecap="square"/>
<rect x="16.20" y="457.60" width="92.10" height="57.00" fill="none" stroke="#333" stroke-width="0.4"/>
<line x1="20.39" y1="514.60" x2="20.39" y2="515.90" stroke="#333" stroke-width="0.4"/>
<line x1="34.43" y1="514.60" x2="34.43" y2="515.90" stroke="#333" stroke-width="0.4"/>
<line x1="48.48" y1="514.60" x2="48.48" y2="515.90" stroke="#333" stroke-width="0.4"/>
<line x1="62.53" y1="514.60" x2="62.53" y2="515.90" stroke="#333" stroke-width="0.4"/>
<line x1="76.58" y1="514.60" x2="76.58" y2="515.90" stroke="#333" stroke-width="0.4"/>
<line x1="90.63" y1="514.60" x2="90.63" y2="515.90" stroke="#333" stroke-width="0.4"/>
<line x1="104.68" y1="514.60" x2="104.68" y2="515.90" stroke="#333" stroke-width="0.4"/>
<line x1="14.90" y1="514.60" x2="16.20" y2="514.60" stroke="#333" stroke-width="0.4"/>
<line x1="14.90" y1="503.20" x2="16.20" y2="503.20" stroke="#333" stroke-width="0.4"/>
<line x1="14.90" y1="491.80" x2="16.20" y2="491.80" stroke="#333" stroke-width="0.4"/>
<line x1="14.90" y1="480.40" x2="16.20" y2="480.40" stroke="#333" stroke-width="0.4"/>
<line x1="14.90" y1="469.00" x2="16.20" y2="469.00" stroke="#333" stroke-width="0.4"/>
<line x1="14.90" y1="457.60" x2="16.20" y2="457.60" stroke="#333" stroke-width="0.4"/>
<text x="20.39" y="521.29" font-size="4.43" text-anchor="middle" textLength="2.61" lengthAdjust="spacingAndGlyphs" fill="#2a2a2a" stroke="#2a2a2a" stroke-width="0.0">0</text>
<text x="34.43" y="521.29" font-size="4.43" text-anchor="middle" textLength="5.22" lengthAdjust="spacingAndGlyphs" fill="#2a2a2a" stroke="#2a2a2a" stroke-width="0.0">25</text>
<text x="48.48" y="521.29" font-size="4.43" text-anchor="middle" textLength="5.22" lengthAdjust="spacingAndGlyphs" fill="#2a2a2a" stroke="#2a2a2a" stroke-width="0.0">50</text>
<text x="62.53" y="521.29" font-size="4.43" text-anchor="middle" textLength="5.22" lengthAdjust="spacingAndGlyphs" fill="#2a2a2a" stroke="#2a2a2a" stroke-width="0.0">75</text>
<text x="76.58" y="521.29" font-size="4.43" text-anchor="middle" textLength="7.82" lengthAdjust="spacingAndGlyphs" fill="#2a2a2a" stroke="#2a2a2a" stroke-width="0.0">100</text>
<text x="90.63" y="521.29" font-size="4.43" text-anchor="middle" textLength="7.82" lengthAdjust="spacingAndGlyphs" fill="#2a2a2a" stroke="#2a2a2a" stroke-width="0.0">125</text>
<text x="104.68" y="521.29" font-size="4.43" text-anchor="middle" textLength="7.82" lengthAdjust="spacingAndGlyphs" fill="#2a2a2a" stroke="#2a2a2a" stroke-width="0.0">150</text>
<text x="14.00" y="516.60" font-size="4.43" text-anchor="end" textLength="6.52" lengthAdjust="spacingAndGlyphs" fill="#2a2a2a" stroke="#2a2a2a" stroke-width="0.0">0.0</text>
<text x="14.00" y="505.20" font-size="4.43" text-anchor="end" textLength="6.52" lengthAdjust="spacingAndGlyphs" fill="#2a2a2a" stroke="#2a2a2a" stroke-width="0.0">0.2</text>
<text x="14.00" y="493.80" font-size="4.43" text-anchor="end" textLength="6.52" lengthAdjust="spacingAndGlyphs" fill="#2a2a2a" stroke="#2a2a2a" stroke-width="0.0">0.4</text>
<text x="14.00" y="482.40" font-size="4.43" text-anchor="end" textLength="6.52" lengthAdjust="spacingAndGlyphs" fill="#2a2a2a" stroke="#2a2a2a" stroke-width="0.0">0.6</text>
<text x="14.00" y="471.00" font-size="4.43" text-anchor="end" textLength="6.52" lengthAdjust="spacingAndGlyphs" fill="#2a2a2a" stroke="#2a2a2a" stroke-width="0.0">0.8</text>
<text x="14.00" y="459.60" font-size="4.43" text-anchor="end" textLength="6.52" lengthAdjust="spacingAndGlyphs" fill="#2a2a2a" stroke="#2a2a2a" stroke-width="0.0">1.0</text>
<text x="62.25" y="454.80" font-size="5.97" text-anchor="middle" textLength="45.41" lengthAdjust="spacingAndGlyphs" fill="#2a2a2a" stroke="#2a2a2a" stroke-width="0.0">Precision (CT 0.1)</text>
<text x="62.25" y="526.40" font-size="3.67" text-anchor="middle" textLength="10.36" lengthAdjust="spacingAndGlyphs" fill="#2a2a2a" stroke="#2a2a2a" stroke-width="0.0">epoch</text>
<text x="5.00" y="486.10" font-size="3.67" text-anchor="middle" textLength="9.29" lengthAdjust="spacingAndGlyphs" transform="rotate(-90 5.00 486.10)" fill="#2a2a2a" stroke="#2a2a2a" stroke-width="0.0">value</text>
<line x1="133.40" y1="457.60" x2="133.40" y2="514.60" stroke="#b0b0b0" stroke-width="0.4"/>
<line x1="147.51" y1="457.60" x2="147.51" y2="514.60" stroke="#b0b0b0" stroke-width="0.4"/>
<line x1="161.62" y1="457.60" x2="161.62" y2="514.60" stroke="#b0b0b0" stroke-width="0.4"/>
<line x1="175.73" y1="457.60" x2="175.73" y2="514.60" stroke="#b0b0b0" stroke-width="0.4"/>
<line x1="189.84" y1="457.60" x2="189.84" y2="514.60" stroke="#b0b0b0" stroke-width="0.4"/>
<line x1="203.95" y1="457.60" x2="203.95" y2="514.60" stroke="#b0b0b0" stroke-width="0.4"/>
<line x1="218.06" y1="457.60" x2="218.06" y2="514.60" stroke="#b0b0b0" stroke-width="0.4"/>
<line x1="129.20" y1="514.60" x2="221.70" y2="514.60" stroke="#b0b0b0" stroke-width="0.4"/>
<line x1="129.20" y1="503.20" x2="221.70" y2="503.20" stroke="#b0b0b0" stroke-width="0.4"/>
<line x1="129.20" y1="491.80" x2="221.70" y2="491.80" stroke="#b0b0b0" stroke-width="0.4"/>
<line x1="129.20" y1="480.40" x2="221.70" y2="480.40" stroke="#b0b0b0" stroke-width="0.4"/>
<line x1="129.20" y1="469.00" x2="221.70" y2="469.00" stroke="#b0b0b0" stroke-width="0.4"/>
<line x1="129.20" y1="457.60" x2="221.70" y2="457.60" stroke="#b0b0b0" stroke-width="0.4"/>
<polyline points="135.10,514.60 136.10,490.50 136.90,487.00 137.60,483.90 138.10,482.40 138.60,473.20 139.40,472.20 140.20,472.70 141.00,471.70 141.70,473.20 142.40,470.70 143.20,470.20 144.20,468.10 145.30,466.10 146.30,468.10 147.30,467.10 148.30,466.60 149.30,468.10 150.30,466.60 151.40,469.20 152.40,468.60 153.40,467.60 154.40,463.60 155.20,467.60 155.90,470.70 156.70,467.60 157.30,471.20 158.50,468.10 159.80,468.60 160.60,473.10 161.40,468.10 162.30,468.10 163.40,467.00 164.50,465.90 165.60,466.40 166.70,467.50 167.60,469.70 168.40,473.10 169.50,471.40 170.20,469.70 171.10,470.90 172.20,469.20 173.30,468.10 174.50,468.60 175.60,468.10 176.70,467.20 177.80,469.20 178.30,469.40 179.40,468.60 180.50,468.10 181.70,467.50 182.80,469.20 183.90,468.10 185.00,468.10 186.10,467.50 187.20,469.00 188.10,467.00 188.90,469.20 190.00,468.60 191.10,470.10 192.20,469.20 193.00,470.90 193.80,472.50 194.70,470.10 195.50,471.40 196.60,468.60 197.70,470.30 198.80,468.10 199.90,468.60 200.70,470.30 201.60,469.20 202.70,470.90 204.00,470.30 205.50,469.20 207.20,467.50 208.30,469.00 209.90,469.40 211.60,470.10 213.20,470.50 214.90,470.90 216.00,471.20 217.10,471.20" fill="none" stroke="#1f77b4" stroke-width="1.1" stroke-linejoin="round" stroke-linecap="square"/>
<rect x="129.20" y="457.60" width="92.50" height="57.00" fill="none" stroke="#333" stroke-width="0.4"/>
<line x1="133.40" y1="514.60" x2="133.40" y2="515.90" stroke="#333" stroke-width="0.4"/>
<line x1="147.51" y1="514.60" x2="147.51" y2="515.90" stroke="#333" stroke-width="0.4"/>
<line x1="161.62" y1="514.60" x2="161.62" y2="515.90" stroke="#333" stroke-width="0.4"/>
<line x1="175.73" y1="514.60" x2="175.73" y2="515.90" stroke="#333" stroke-width="0.4"/>
<line x1="189.84" y1="514.60" x2="189.84" y2="515.90" stroke="#333" stroke-width="0.4"/>
<line x1="203.95" y1="514.60" x2="203.95" y2="515.90" stroke="#333" stroke-width="0.4"/>
<line x1="218.06" y1="514.60" x2="218.06" y2="515.90" stroke="#333" stroke-width="0.4"/>
<line x1="127.90" y1="514.60" x2="129.20" y2="514.60" stroke="#333" stroke-width="0.4"/>
<line x1="127.90" y1="503.20" x2="129.20" y2="503.20" stroke="#333" stroke-width="0.4"/>
<line x1="127.90" y1="491.80" x2="129.20" y2="491.80" stroke="#333" stroke-width="0.4"/>
<line x1="127.90" y1="480.40" x2="129.20" y2="480.40" stroke="#333" stroke-width="0.4"/>
<line x1="127.90" y1="469.00" x2="129.20" y2="469.00" stroke="#333" stroke-width="0.4"/>
<line x1="127.90" y1="457.60" x2="129.20" y2="457.60" stroke="#333" stroke-width="0.4"/>
<text x="133.40" y="521.29" font-size="4.43" text-anchor="middle" textLength="2.61" lengthAdjust="spacingAndGlyphs" fill="#2a2a2a" stroke="#2a2a2a" stroke-width="0.0">0</text>
<text x="147.51" y="521.29" font-size="4.43" text-anchor="middle" textLength="5.22" lengthAdjust="spacingAndGlyphs" fill="#2a2a2a" stroke="#2a2a2a" stroke-width="0.0">25</text>
<text x="161.62" y="521.29" font-size="4.43" text-anchor="middle" textLength="5.22" lengthAdjust="spacingAndGlyphs" fill="#2a2a2a" stroke="#2a2a2a" stroke-width="0.0">50</text>
<text x="175.73" y="521.29" font-size="4.43" text-anchor="middle" textLength="5.22" lengthAdjust="spacingAndGlyphs" fill="#2a2a2a" stroke="#2a2a2a" stroke-width="0.0">75</text>
<text x="189.84" y="521.29" font-size="4.43" text-anchor="middle" textLength="7.82" lengthAdjust="spacingAndGlyphs" fill="#2a2a2a" stroke="#2a2a2a" stroke-width="0.0">100</text>
<text x="203.95" y="521.29" font-size="4.43" text-anchor="middle" textLength="7.82" lengthAdjust="spacingAndGlyphs" fill="#2a2a2a" stroke="#2a2a2a" stroke-width="0.0">125</text>
<text x="218.06" y="521.29" font-size="4.43" text-anchor="middle" textLength="7.82" lengthAdjust="spacingAndGlyphs" fill="#2a2a2a" stroke="#2a2a2a" stroke-width="0.0">150</text>
<text x="127.00" y="516.60" font-size="4.43" text-anchor="end" textLength="6.52" lengthAdjust="spacingAndGlyphs" fill="#2a2a2a" stroke="#2a2a2a" stroke-width="0.0">0.0</text>
<text x="127.00" y="505.20" font-size="4.43" text-anchor="end" textLength="6.52" lengthAdjust="spacingAndGlyphs" fill="#2a2a2a" stroke="#2a2a2a" stroke-width="0.0">0.2</text>
<text x="127.00" y="493.80" font-size="4.43" text-anchor="end" textLength="6.52" lengthAdjust="spacingAndGlyphs" fill="#2a2a2a" stroke="#2a2a2a" stroke-width="0.0">0.4</text>
<text x="127.00" y="482.40" font-size="4.43" text-anchor="end" textLength="6.52" lengthAdjust="spacingAndGlyphs" fill="#2a2a2a" stroke="#2a2a2a" stroke-width="0.0">0.6</text>
<text x="127.00" y="471.00" font-size="4.43" text-anchor="end" textLength="6.52" lengthAdjust="spacingAndGlyphs" fill="#2a2a2a" stroke="#2a2a2a" stroke-width="0.0">0.8</text>
<text x="127.00" y="459.60" font-size="4.43" text-anchor="end" textLength="6.52" lengthAdjust="spacingAndGlyphs" fill="#2a2a2a" stroke="#2a2a2a" stroke-width="0.0">1.0</text>
<text x="175.45" y="454.80" font-size="5.97" text-anchor="middle" textLength="37.82" lengthAdjust="spacingAndGlyphs" fill="#2a2a2a" stroke="#2a2a2a" stroke-width="0.0">Recall (CT 0.1)</text>
<text x="175.45" y="526.40" font-size="3.67" text-anchor="middle" textLength="10.36" lengthAdjust="spacingAndGlyphs" fill="#2a2a2a" stroke="#2a2a2a" stroke-width="0.0">epoch</text>
<text x="118.00" y="486.10" font-size="3.67" text-anchor="middle" textLength="9.29" lengthAdjust="spacingAndGlyphs" transform="rotate(-90 118.00 486.10)" fill="#2a2a2a" stroke="#2a2a2a" stroke-width="0.0">value</text>
<line x1="245.39" y1="457.60" x2="245.39" y2="514.60" stroke="#b0b0b0" stroke-width="0.4"/>
<line x1="259.43" y1="457.60" x2="259.43" y2="514.60" stroke="#b0b0b0" stroke-width="0.4"/>
<line x1="273.48" y1="457.60" x2="273.48" y2="514.60" stroke="#b0b0b0" stroke-width="0.4"/>
<line x1="287.53" y1="457.60" x2="287.53" y2="514.60" stroke="#b0b0b0" stroke-width="0.4"/>
<line x1="301.58" y1="457.60" x2="301.58" y2="514.60" stroke="#b0b0b0" stroke-width="0.4"/>
<line x1="315.63" y1="457.60" x2="315.63" y2="514.60" stroke="#b0b0b0" stroke-width="0.4"/>
<line x1="329.68" y1="457.60" x2="329.68" y2="514.60" stroke="#b0b0b0" stroke-width="0.4"/>
<line x1="241.20" y1="514.60" x2="333.30" y2="514.60" stroke="#b0b0b0" stroke-width="0.4"/>
<line x1="241.20" y1="503.20" x2="333.30" y2="503.20" stroke="#b0b0b0" stroke-width="0.4"/>
<line x1="241.20" y1="491.80" x2="333.30" y2="491.80" stroke="#b0b0b0" stroke-width="0.4"/>
<line x1="241.20" y1="480.40" x2="333.30" y2="480.40" stroke="#b0b0b0" stroke-width="0.4"/>
<line x1="241.20" y1="469.00" x2="333.30" y2="469.00" stroke="#b0b0b0" stroke-width="0.4"/>
<line x1="241.20" y1="457.60" x2="333.30" y2="457.60" stroke="#b0b0b0" stroke-width="0.4"/>
<polyline points="246.00,514.60 247.10,513.50 247.90,508.00 248.50,502.50 249.30,498.00 250.10,494.70 251.00,496.40 251.90,497.50 252.60,492.50 253.20,494.70 253.70,486.90 254.30,491.40 254.90,489.20 255.60,491.40 256.50,486.90 257.10,488.00 257.60,481.90 258.50,482.50 259.30,483.10 260.10,480.80 261.00,478.60 262.10,477.50 263.20,475.80 264.30,476.40 265.40,475.30 266.50,474.20 267.60,475.30 268.70,476.40 269.80,475.30 270.70,477.00 271.50,475.80 272.30,477.50 273.20,475.80 274.00,473.60 274.80,474.20 275.90,473.60 277.00,473.10 278.10,472.00 279.20,473.10 280.00,477.50 280.90,474.20 282.00,473.40 283.10,473.10 284.20,472.50 285.30,473.60 286.50,472.00 287.60,471.40 288.10,472.00 289.40,473.60 290.90,472.30 292.50,471.20 294.20,470.30 295.60,472.30 297.00,471.20 298.10,470.30 299.70,470.90 301.40,471.20 303.10,470.90 304.70,471.40 306.40,471.20 308.10,471.20 309.70,470.10 311.40,469.20 313.10,470.30 314.70,472.00 316.40,472.70 318.00,472.00 319.70,470.90 321.40,470.30 323.00,470.50 324.70,471.40 326.40,471.60 328.00,471.20 329.70,470.90" fill="none" stroke="#1f77b4" stroke-width="1.1" stroke-linejoin="round" stroke-linecap="square"/>
<rect x="241.20" y="457.60" width="92.10" height="57.00" fill="none" stroke="#333" stroke-width="0.4"/>
<line x1="245.39" y1="514.60" x2="245.39" y2="515.90" stroke="#333" stroke-width="0.4"/>
<line x1="259.43" y1="514.60" x2="259.43" y2="515.90" stroke="#333" stroke-width="0.4"/>
<line x1="273.48" y1="514.60" x2="273.48" y2="515.90" stroke="#333" stroke-width="0.4"/>
<line x1="287.53" y1="514.60" x2="287.53" y2="515.90" stroke="#333" stroke-width="0.4"/>
<line x1="301.58" y1="514.60" x2="301.58" y2="515.90" stroke="#333" stroke-width="0.4"/>
<line x1="315.63" y1="514.60" x2="315.63" y2="515.90" stroke="#333" stroke-width="0.4"/>
<line x1="329.68" y1="514.60" x2="329.68" y2="515.90" stroke="#333" stroke-width="0.4"/>
<line x1="239.90" y1="514.60" x2="241.20" y2="514.60" stroke="#333" stroke-width="0.4"/>
<line x1="239.90" y1="503.20" x2="241.20" y2="503.20" stroke="#333" stroke-width="0.4"/>
<line x1="239.90" y1="491.80" x2="241.20" y2="491.80" stroke="#333" stroke-width="0.4"/>
<line x1="239.90" y1="480.40" x2="241.20" y2="480.40" stroke="#333" stroke-width="0.4"/>
<line x1="239.90" y1="469.00" x2="241.20" y2="469.00" stroke="#333" stroke-width="0.4"/>
<line x1="239.90" y1="457.60" x2="241.20" y2="457.60" stroke="#333" stroke-width="0.4"/>
<text x="245.39" y="521.29" font-size="4.43" text-anchor="middle" textLength="2.61" lengthAdjust="spacingAndGlyphs" fill="#2a2a2a" stroke="#2a2a2a" stroke-width="0.0">0</text>
<text x="259.43" y="521.29" font-size="4.43" text-anchor="middle" textLength="5.22" lengthAdjust="spacingAndGlyphs" fill="#2a2a2a" stroke="#2a2a2a" stroke-width="0.0">25</text>
<text x="273.48" y="521.29" font-size="4.43" text-anchor="middle" textLength="5.22" lengthAdjust="spacingAndGlyphs" fill="#2a2a2a" stroke="#2a2a2a" stroke-width="0.0">50</text>
<text x="287.53" y="521.29" font-size="4.43" text-anchor="middle" textLength="5.22" lengthAdjust="spacingAndGlyphs" fill="#2a2a2a" stroke="#2a2a2a" stroke-width="0.0">75</text>
<text x="301.58" y="521.29" font-size="4.43" text-anchor="middle" textLength="7.82" lengthAdjust="spacingAndGlyphs" fill="#2a2a2a" stroke="#2a2a2a" stroke-width="0.0">100</text>
<text x="315.63" y="521.29" font-size="4.43" text-anchor="middle" textLength="7.82" lengthAdjust="spacingAndGlyphs" fill="#2a2a2a" stroke="#2a2a2a" stroke-width="0.0">125</text>
<text x="329.68" y="521.29" font-size="4.43" text-anchor="middle" textLength="7.82" lengthAdjust="spacingAndGlyphs" fill="#2a2a2a" stroke="#2a2a2a" stroke-width="0.0">150</text>
<text x="239.00" y="516.60" font-size="4.43" text-anchor="end" textLength="6.52" lengthAdjust="spacingAndGlyphs" fill="#2a2a2a" stroke="#2a2a2a" stroke-width="0.0">0.0</text>
<text x="239.00" y="505.20" font-size="4.43" text-anchor="end" textLength="6.52" lengthAdjust="spacingAndGlyphs" fill="#2a2a2a" stroke="#2a2a2a" stroke-width="0.0">0.2</text>
<text x="239.00" y="493.80" font-size="4.43" text-anchor="end" textLength="6.52" lengthAdjust="spacingAndGlyphs" fill="#2a2a2a" stroke="#2a2a2a" stroke-width="0.0">0.4</text>
<text x="239.00" y="482.40" font-size="4.43" text-anchor="end" textLength="6.52" lengthAdjust="spacingAndGlyphs" fill="#2a2a2a" stroke="#2a2a2a" stroke-width="0.0">0.6</text>
<text x="239.00" y="471.00" font-size="4.43" text-anchor="end" textLength="6.52" lengthAdjust="spacingAndGlyphs" fill="#2a2a2a" stroke="#2a2a2a" stroke-width="0.0">0.8</text>
<text x="239.00" y="459.60" font-size="4.43" text-anchor="end" textLength="6.52" lengthAdjust="spacingAndGlyphs" fill="#2a2a2a" stroke="#2a2a2a" stroke-width="0.0">1.0</text>
<text x="287.25" y="454.80" font-size="5.97" text-anchor="middle" textLength="24.98" lengthAdjust="spacingAndGlyphs" fill="#2a2a2a" stroke="#2a2a2a" stroke-width="0.0">mAP@0.5</text>
<text x="287.25" y="526.40" font-size="3.67" text-anchor="middle" textLength="10.36" lengthAdjust="spacingAndGlyphs" fill="#2a2a2a" stroke="#2a2a2a" stroke-width="0.0">epoch</text>
<text x="230.00" y="486.10" font-size="3.67" text-anchor="middle" textLength="9.29" lengthAdjust="spacingAndGlyphs" transform="rotate(-90 230.00 486.10)" fill="#2a2a2a" stroke="#2a2a2a" stroke-width="0.0">value</text>
<line x1="358.10" y1="457.60" x2="358.10" y2="514.60" stroke="#b0b0b0" stroke-width="0.4"/>
<line x1="372.17" y1="457.60" x2="372.17" y2="514.60" stroke="#b0b0b0" stroke-width="0.4"/>
<line x1="386.25" y1="457.60" x2="386.25" y2="514.60" stroke="#b0b0b0" stroke-width="0.4"/>
<line x1="400.33" y1="457.60" x2="400.33" y2="514.60" stroke="#b0b0b0" stroke-width="0.4"/>
<line x1="414.41" y1="457.60" x2="414.41" y2="514.60" stroke="#b0b0b0" stroke-width="0.4"/>
<line x1="428.49" y1="457.60" x2="428.49" y2="514.60" stroke="#b0b0b0" stroke-width="0.4"/>
<line x1="442.57" y1="457.60" x2="442.57" y2="514.60" stroke="#b0b0b0" stroke-width="0.4"/>
<line x1="353.90" y1="514.60" x2="446.20" y2="514.60" stroke="#b0b0b0" stroke-width="0.4"/>
<line x1="353.90" y1="503.20" x2="446.20" y2="503.20" stroke="#b0b0b0" stroke-width="0.4"/>
<line x1="353.90" y1="491.80" x2="446.20" y2="491.80" stroke="#b0b0b0" stroke-width="0.4"/>
<line x1="353.90" y1="480.40" x2="446.20" y2="480.40" stroke="#b0b0b0" stroke-width="0.4"/>
<line x1="353.90" y1="469.00" x2="446.20" y2="469.00" stroke="#b0b0b0" stroke-width="0.4"/>
<line x1="353.90" y1="457.60" x2="446.20" y2="457.60" stroke="#b0b0b0" stroke-width="0.4"/>
<polyline points="360.10,514.60 360.90,512.40 361.80,508.00 362.60,505.80 363.40,506.30 364.20,509.10 364.90,503.60 365.50,503.00 366.20,499.10 366.70,502.50 367.30,501.30 368.20,501.90 369.00,498.00 369.70,495.80 370.60,496.40 371.50,498.00 372.30,496.90 373.10,494.70 374.00,493.60 375.10,491.90 376.20,490.30 377.30,491.40 378.20,489.70 378.90,491.40 379.70,490.30 380.60,491.90 381.50,490.00 382.30,490.30 383.00,489.20 383.90,490.30 384.80,491.40 385.60,490.80 386.70,489.20 387.80,488.00 388.90,487.20 390.00,486.90 391.10,486.00 391.90,487.50 392.80,491.40 393.70,486.90 394.50,485.80 395.20,487.20 396.10,486.00 397.20,485.30 398.10,486.70 398.90,484.70 399.70,484.20 400.60,484.70 401.10,485.60 402.20,486.40 403.90,485.60 405.50,485.00 407.20,484.50 408.60,485.00 410.00,484.20 411.10,483.60 412.70,484.50 414.40,484.20 416.10,483.60 417.50,484.70 418.80,483.60 420.00,483.10 421.10,484.50 422.20,483.40 423.80,482.00 425.30,482.50 426.60,484.20 428.30,484.20 429.90,485.00 431.30,484.50 432.70,482.30 434.40,482.70 436.00,483.10 437.70,483.90 439.40,483.40 441.00,483.10 442.40,483.40" fill="none" stroke="#1f77b4" stroke-width="1.1" stroke-linejoin="round" stroke-linecap="square"/>
<rect x="353.90" y="457.60" width="92.30" height="57.00" fill="none" stroke="#333" stroke-width="0.4"/>
<line x1="358.10" y1="514.60" x2="358.10" y2="515.90" stroke="#333" stroke-width="0.4"/>
<line x1="372.17" y1="514.60" x2="372.17" y2="515.90" stroke="#333" stroke-width="0.4"/>
<line x1="386.25" y1="514.60" x2="386.25" y2="515.90" stroke="#333" stroke-width="0.4"/>
<line x1="400.33" y1="514.60" x2="400.33" y2="515.90" stroke="#333" stroke-width="0.4"/>
<line x1="414.41" y1="514.60" x2="414.41" y2="515.90" stroke="#333" stroke-width="0.4"/>
<line x1="428.49" y1="514.60" x2="428.49" y2="515.90" stroke="#333" stroke-width="0.4"/>
<line x1="442.57" y1="514.60" x2="442.57" y2="515.90" stroke="#333" stroke-width="0.4"/>
<line x1="352.60" y1="514.60" x2="353.90" y2="514.60" stroke="#333" stroke-width="0.4"/>
<line x1="352.60" y1="503.20" x2="353.90" y2="503.20" stroke="#333" stroke-width="0.4"/>
<line x1="352.60" y1="491.80" x2="353.90" y2="491.80" stroke="#333" stroke-width="0.4"/>
<line x1="352.60" y1="480.40" x2="353.90" y2="480.40" stroke="#333" stroke-width="0.4"/>
<line x1="352.60" y1="469.00" x2="353.90" y2="469.00" stroke="#333" stroke-width="0.4"/>
<line x1="352.60" y1="457.60" x2="353.90" y2="457.60" stroke="#333" stroke-width="0.4"/>
<text x="358.10" y="521.29" font-size="4.43" text-anchor="middle" textLength="2.61" lengthAdjust="spacingAndGlyphs" fill="#2a2a2a" stroke="#2a2a2a" stroke-width="0.0">0</text>
<text x="372.17" y="521.29" font-size="4.43" text-anchor="middle" textLength="5.22" lengthAdjust="spacingAndGlyphs" fill="#2a2a2a" stroke="#2a2a2a" stroke-width="0.0">25</text>
<text x="386.25" y="521.29" font-size="4.43" text-anchor="middle" textLength="5.22" lengthAdjust="spacingAndGlyphs" fill="#2a2a2a" stroke="#2a2a2a" stroke-width="0.0">50</text>
<text x="400.33" y="521.29" font-size="4.43" text-anchor="middle" textLength="5.22" lengthAdjust="spacingAndGlyphs" fill="#2a2a2a" stroke="#2a2a2a" stroke-width="0.0">75</text>
<text x="414.41" y="521.29" font-size="4.43" text-anchor="middle" textLength="7.82" lengthAdjust="spacingAndGlyphs" fill="#2a2a2a" stroke="#2a2a2a" stroke-width="0.0">100</text>
<text x="428.49" y="521.29" font-size="4.43" text-anchor="middle" textLength="7.82" lengthAdjust="spacingAndGlyphs" fill="#2a2a2a" stroke="#2a2a2a" stroke-width="0.0">125</text>
<text x="442.57" y="521.29" font-size="4.43" text-anchor="middle" textLength="7.82" lengthAdjust="spacingAndGlyphs" fill="#2a2a2a" stroke="#2a2a2a" stroke-width="0.0">150</text>
<text x="351.70" y="516.60" font-size="4.43" text-anchor="end" textLength="6.52" lengthAdjust="spacingAndGlyphs" fill="#2a2a2a" stroke="#2a2a2a" stroke-width="0.0">0.0</text>
<text x="351.70" y="505.20" font-size="4.43" text-anchor="end" textLength="6.52" lengthAdjust="spacingAndGlyphs" fill="#2a2a2a" stroke="#2a2a2a" stroke-width="0.0">0.2</text>
<text x="351.70" y="493.80" font-size="4.43" text-anchor="end" textLength="6.52" lengthAdjust="spacingAndGlyphs" fill="#2a2a2a" stroke="#2a2a2a" stroke-width="0.0">0.4</text>
<text x="351.70" y="482.40" font-size="4.43" text-anchor="end" textLength="6.52" lengthAdjust="spacingAndGlyphs" fill="#2a2a2a" stroke="#2a2a2a" stroke-width="0.0">0.6</text>
<text x="351.70" y="471.00" font-size="4.43" text-anchor="end" textLength="6.52" lengthAdjust="spacingAndGlyphs" fill="#2a2a2a" stroke="#2a2a2a" stroke-width="0.0">0.8</text>
<text x="351.70" y="459.60" font-size="4.43" text-anchor="end" textLength="6.52" lengthAdjust="spacingAndGlyphs" fill="#2a2a2a" stroke="#2a2a2a" stroke-width="0.0">1.0</text>
<text x="400.05" y="454.80" font-size="5.97" text-anchor="middle" textLength="38.18" lengthAdjust="spacingAndGlyphs" fill="#2a2a2a" stroke="#2a2a2a" stroke-width="0.0">mAP@0.5:0.95</text>
<text x="400.05" y="526.40" font-size="3.67" text-anchor="middle" textLength="10.36" lengthAdjust="spacingAndGlyphs" fill="#2a2a2a" stroke="#2a2a2a" stroke-width="0.0">epoch</text>
<text x="342.70" y="486.10" font-size="3.67" text-anchor="middle" textLength="9.29" lengthAdjust="spacingAndGlyphs" transform="rotate(-90 342.70 486.10)" fill="#2a2a2a" stroke="#2a2a2a" stroke-width="0.0">value</text>
<text x="225" y="546.3" font-family="Liberation Serif, serif" font-weight="bold" font-size="10.5" text-anchor="middle" fill="#1a1a1a">(c)</text>
</svg>
</body></html>
